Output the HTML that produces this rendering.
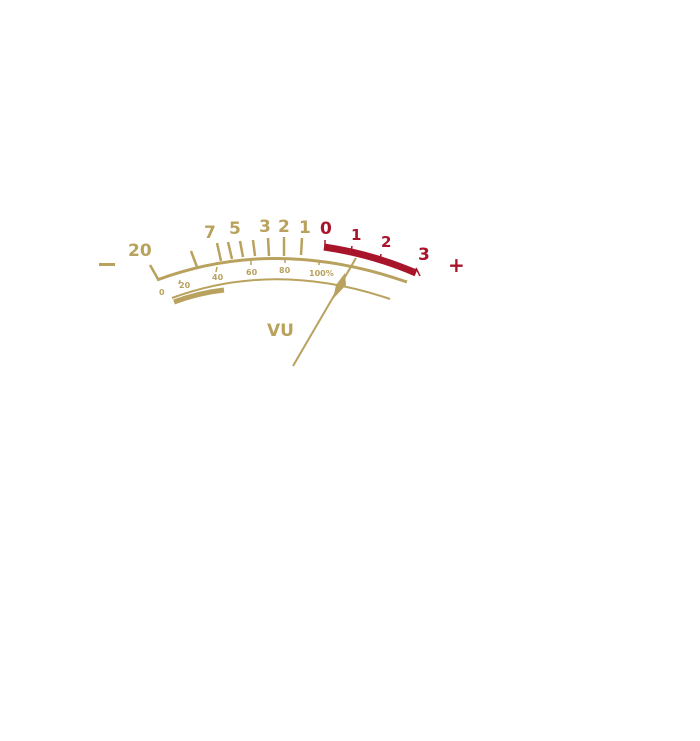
<!DOCTYPE html>
<html><head><style>
html,body{margin:0;padding:0;background:#fff;width:700px;height:741px;overflow:hidden}
text{font-family:"DejaVu Sans","Liberation Sans",sans-serif;font-weight:bold}
</style></head><body>
<svg width="700" height="741" viewBox="0 0 700 741" xmlns="http://www.w3.org/2000/svg">
<g stroke="#b9a15e" fill="none" stroke-linecap="butt">
  <!-- main arc -->
  <path d="M157,280 Q275,236 407,282" stroke-width="3"/>
  <!-- inner arc -->
  <path d="M172,298 Q275,260 390,299" stroke-width="2"/>
  <!-- bar -->
  <path d="M174,302 Q198,293 224,290" stroke-width="5"/>
  <!-- ticks -->
  <line x1="150" y1="265" x2="158" y2="279" stroke-width="2.5"/>
  <line x1="191" y1="251" x2="197" y2="267" stroke-width="2.5"/>
  <line x1="217" y1="243" x2="221" y2="261" stroke-width="2.5"/>
  <line x1="228" y1="242" x2="232" y2="259" stroke-width="2.5"/>
  <line x1="240" y1="241" x2="243" y2="257" stroke-width="2.5"/>
  <line x1="253" y1="240" x2="255" y2="256" stroke-width="2.5"/>
  <line x1="268" y1="238" x2="269" y2="256" stroke-width="2.5"/>
  <line x1="284" y1="237" x2="284" y2="256" stroke-width="2.5"/>
  <line x1="302" y1="238" x2="301" y2="255" stroke-width="2.5"/>
  <!-- small scale ticks -->
  <line x1="179" y1="284" x2="180" y2="280" stroke-width="1.5"/>
  <line x1="216" y1="272" x2="217" y2="267" stroke-width="1.5"/>
  <line x1="251" y1="265" x2="251" y2="261" stroke-width="1.5"/>
  <line x1="285" y1="263" x2="285" y2="258" stroke-width="1.5"/>
  <line x1="319" y1="265" x2="319" y2="260" stroke-width="1.5"/>
  <!-- needle -->
  <line x1="293" y1="366" x2="356" y2="258" stroke-width="2"/>
  <path d="M345,273 L346,285 L333,299 L336,285 Z" fill="#b9a15e" stroke="none"/>
</g>
<!-- red band -->
<path d="M324,247 Q372,254 416,273" stroke="#a8152a" stroke-width="7" fill="none"/>
<g stroke="#a8152a" stroke-width="1.5">
  <line x1="325" y1="240" x2="325" y2="248"/>
  <line x1="352" y1="246" x2="351" y2="252"/>
  <line x1="381" y1="254" x2="380" y2="260"/>
  <line x1="416" y1="268" x2="420" y2="276"/>
</g>
<g fill="#b9a15e">
  <text x="128" y="256" font-size="17">20</text>
  <text x="204" y="238" font-size="17">7</text>
  <text x="229" y="234" font-size="17">5</text>
  <text x="259" y="232" font-size="17">3</text>
  <text x="278" y="232" font-size="17">2</text>
  <text x="299" y="233" font-size="17">1</text>
  <rect x="99" y="263" width="16" height="3"/>
  <text x="159" y="295" font-size="8">0</text>
  <text x="179" y="288" font-size="8">20</text>
  <text x="212" y="280" font-size="8">40</text>
  <text x="246" y="275" font-size="8">60</text>
  <text x="279" y="273" font-size="8">80</text>
  <text x="309" y="276" font-size="8">100%</text>
  <text x="267" y="336" font-size="17">VU</text>
</g>
<g fill="#a8152a">
  <text x="320" y="234" font-size="17">0</text>
  <text x="351" y="240" font-size="15">1</text>
  <text x="381" y="247" font-size="15">2</text>
  <text x="418" y="260" font-size="17">3</text>
  <text x="448" y="272" font-size="20" font-weight="normal">+</text>
</g>
</svg>
</body></html>
